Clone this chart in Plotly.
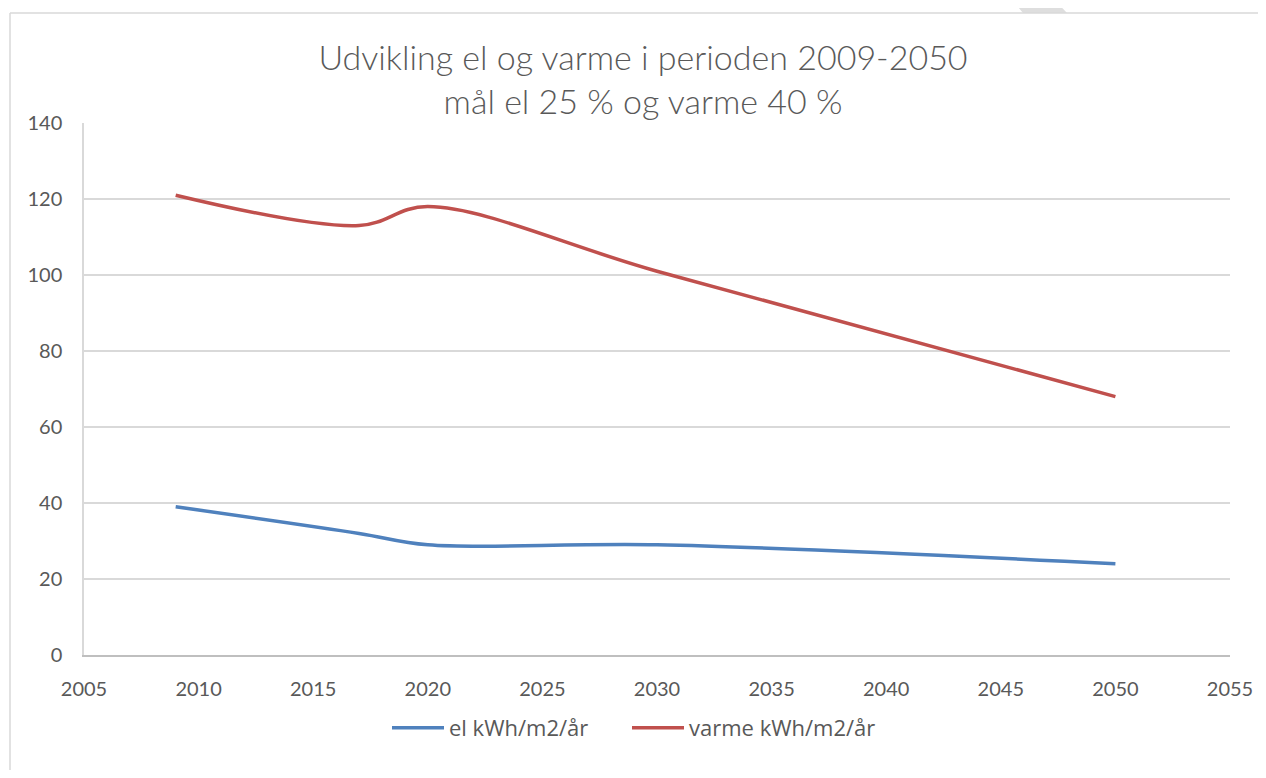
import plotly.graph_objects as go

years = [2009, 2017, 2020, 2030, 2050]
el = [39, 32, 29, 29, 24]
varme = [121, 113, 118, 101, 68]
x_ticks = list(range(2005, 2056, 5))
y_ticks = list(range(0, 141, 20))

OFF = 8  # default body margin of the html page
W, H = 1266 - OFF, 778 - 2 * OFF
L, R, T, B = 84, 1230, 123, 655  # plot area in page pixels

def px(x):
    return (x - L) / (R - L)

def py(y):
    return (B - y) / (B - T)

fig = go.Figure()
fig.add_trace(go.Scatter(x=years, y=el, mode="lines", name="el kWh/m2/år", legend="legend",
                         line=dict(color="#4f81bd", width=3.5, shape="spline", smoothing=1.0)))
fig.add_trace(go.Scatter(x=years, y=varme, mode="lines", name="varme kWh/m2/år", legend="legend2",
                         line=dict(color="#c0504d", width=3.5, shape="spline", smoothing=1.0)))

# watermark fragment
fig.add_shape(type="path", xref="paper", yref="paper",
              path=f"M {px(1008)} {py(-5)} L {px(1050)} {py(-5)} L {px(1067)} {py(13)} L {px(1023)} {py(13)} Z",
              fillcolor="#dedede", line=dict(width=0), layer="below")
# chart border (top and left edges)
fig.add_shape(type="line", xref="paper", yref="paper",
              x0=px(10), x1=px(1280), y0=py(13), y1=py(13),
              line=dict(color="#d9d9d9", width=1.5), layer="below")
fig.add_shape(type="line", xref="paper", yref="paper",
              x0=px(10), x1=px(10), y0=py(13), y1=py(790),
              line=dict(color="#d9d9d9", width=1.5), layer="below")

leg_common = dict(orientation="h", xanchor="left", yanchor="middle", y=py(728),
                  font=dict(size=22, color="#595959", family="Open Sans"), itemwidth=52,
                  bgcolor="rgba(0,0,0,0)")

fig.update_layout(
    width=W, height=H,
    margin=dict(l=L - OFF, r=1266 - R, t=T - OFF, b=OFF + H - B),
    paper_bgcolor="white", plot_bgcolor="white",
    font=dict(family="Lato", color="#595959", size=20),
    title=dict(text="Udvikling el og varme i perioden 2009-2050<br>mål el 25 % og varme 40 %",
               x=(643 - OFF) / W, xanchor="center", y=1 - (70 - OFF) / H, yanchor="top",
               font=dict(family="Lato", size=34, color="#595959", weight=300)),
    showlegend=True,
    legend=dict(x=px(387), **leg_common),
    legend2=dict(x=px(627), **leg_common),
    xaxis=dict(range=[2005, 2055], tickvals=x_ticks, ticktext=[str(v) for v in x_ticks],
               showgrid=False, zeroline=False, showline=True, linecolor="#bfbfbf", linewidth=1.5,
               ticks="", ticklabelstandoff=15, fixedrange=True),
    yaxis=dict(range=[0, 140], tickvals=y_ticks, ticktext=[str(v) for v in y_ticks],
               showgrid=True, gridcolor="#d9d9d9", gridwidth=1.5, zeroline=False,
               showline=True, linecolor="#d9d9d9", linewidth=1.5,
               ticks="", ticklabelstandoff=16, fixedrange=True),
)

fig.write_html("out.html")
